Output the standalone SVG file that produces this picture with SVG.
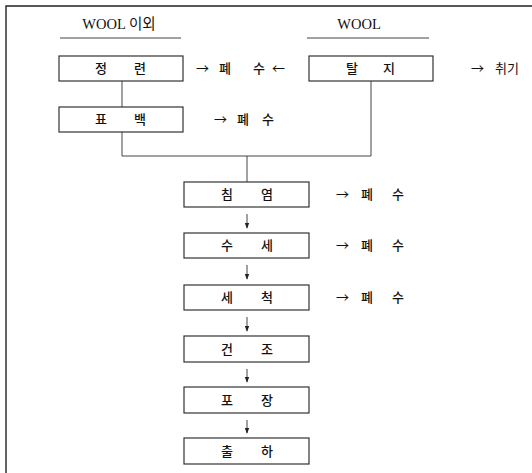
<svg xmlns="http://www.w3.org/2000/svg" width="532" height="473" viewBox="0 0 532 473">
  <defs>
    <marker id="ah" viewBox="0 0 8 8" refX="7" refY="4" markerWidth="6" markerHeight="6" orient="auto" markerUnits="userSpaceOnUse">
      <path d="M0,1 L8,4 L0,7 Z" fill="#222"/>
    </marker>
    <style>
      .box { fill: #fff; stroke: #333; stroke-width: 1.2; }
      .ln { fill: none; stroke: #444; stroke-width: 1; }
      .frame { fill: none; stroke: #222; stroke-width: 1.4; }
      .hd { font-family: "Liberation Serif", "Noto Sans CJK KR", serif; font-size: 14.5px; fill: #111; }
      .kr { font-family: "Noto Sans CJK KR", sans-serif; font-size: 13px; font-weight: 500; fill: #111; text-anchor: middle; }
      .out { font-family: "Noto Sans CJK KR", sans-serif; font-size: 13px; fill: #111; }
    </style>
  </defs>

  <rect width="532" height="473" fill="#fff"/>

  <!-- page frame: top and left rules -->
  <path class="frame" d="M6,473 V6 H532"/>

  <!-- column headings -->
  <text class="hd" x="119" y="29" text-anchor="middle">WOOL 이외</text>
  <line class="ln" x1="60" y1="38" x2="181" y2="38"/>
  <text class="hd" x="359" y="29" text-anchor="middle">WOOL</text>
  <line class="ln" x1="307" y1="38" x2="429" y2="38"/>

  <!-- connectors -->
  <g id="connectors">
    <line class="ln" x1="122" y1="81" x2="122" y2="107"/>
    <path class="ln" d="M122,132 V156 H371 V81"/>
    <line class="ln" x1="247" y1="156" x2="247" y2="182"/>
    <line class="ln" x1="247" y1="214" x2="247" y2="228" marker-end="url(#ah)"/>
    <line class="ln" x1="247" y1="265" x2="247" y2="279" marker-end="url(#ah)"/>
    <line class="ln" x1="247" y1="317" x2="247" y2="331" marker-end="url(#ah)"/>
    <line class="ln" x1="247" y1="369" x2="247" y2="382" marker-end="url(#ah)"/>
    <line class="ln" x1="247" y1="420" x2="247" y2="433" marker-end="url(#ah)"/>
  </g>

  <!-- pre-treatment nodes -->
  <g id="n-jeongryeon">
    <rect class="box" x="59" y="56" width="124" height="25"/>
    <text class="kr" x="101" y="73">정</text>
    <text class="kr" x="140" y="73">련</text>
  </g>
  <g id="n-talji">
    <rect class="box" x="309" y="56" width="124" height="25"/>
    <text class="kr" x="352" y="73">탈</text>
    <text class="kr" x="389" y="73">지</text>
  </g>
  <g id="n-pyobaek">
    <rect class="box" x="59" y="107" width="124" height="25"/>
    <text class="kr" x="101" y="124">표</text>
    <text class="kr" x="140" y="124">백</text>
  </g>

  <!-- discharge labels for the top row -->
  <g id="o-top">
    <text class="out" x="196" y="73">→</text>
    <text class="kr" x="225" y="73">폐</text>
    <text class="kr" x="259" y="73">수</text>
    <text class="out" x="272" y="73">←</text>
  </g>
  <g id="o-odor">
    <text class="out" x="471" y="73">→</text>
    <text class="out" x="495" y="73">취기</text>
  </g>
  <g id="o-pyobaek">
    <text class="out" x="214" y="124">→</text>
    <text class="kr" x="243" y="124">폐</text>
    <text class="kr" x="268" y="124">수</text>
  </g>

  <!-- main process chain -->
  <g id="n-chimyeom">
    <rect class="box" x="184" y="182" width="125" height="25"/>
    <text class="kr" x="227" y="199">침</text>
    <text class="kr" x="267" y="199">염</text>
  </g>
  <g id="n-suse">
    <rect class="box" x="184" y="233" width="125" height="25"/>
    <text class="kr" x="227" y="250">수</text>
    <text class="kr" x="267" y="250">세</text>
  </g>
  <g id="n-secheok">
    <rect class="box" x="184" y="285" width="125" height="25"/>
    <text class="kr" x="227" y="302">세</text>
    <text class="kr" x="267" y="302">척</text>
  </g>
  <g id="n-geonjo">
    <rect class="box" x="184" y="336" width="125" height="26"/>
    <text class="kr" x="227" y="354">건</text>
    <text class="kr" x="267" y="354">조</text>
  </g>
  <g id="n-pojang">
    <rect class="box" x="184" y="387" width="125" height="26"/>
    <text class="kr" x="227" y="405">포</text>
    <text class="kr" x="267" y="405">장</text>
  </g>
  <g id="n-chulha">
    <rect class="box" x="184" y="438" width="125" height="26"/>
    <text class="kr" x="227" y="456">출</text>
    <text class="kr" x="267" y="456">하</text>
  </g>

  <!-- discharge labels for the process chain -->
  <g id="o-chimyeom">
    <text class="out" x="336" y="199">→</text>
    <text class="kr" x="367" y="199">폐</text>
    <text class="kr" x="398" y="199">수</text>
  </g>
  <g id="o-suse">
    <text class="out" x="336" y="250">→</text>
    <text class="kr" x="367" y="250">폐</text>
    <text class="kr" x="398" y="250">수</text>
  </g>
  <g id="o-secheok">
    <text class="out" x="336" y="302">→</text>
    <text class="kr" x="367" y="302">폐</text>
    <text class="kr" x="398" y="302">수</text>
  </g>
</svg>
